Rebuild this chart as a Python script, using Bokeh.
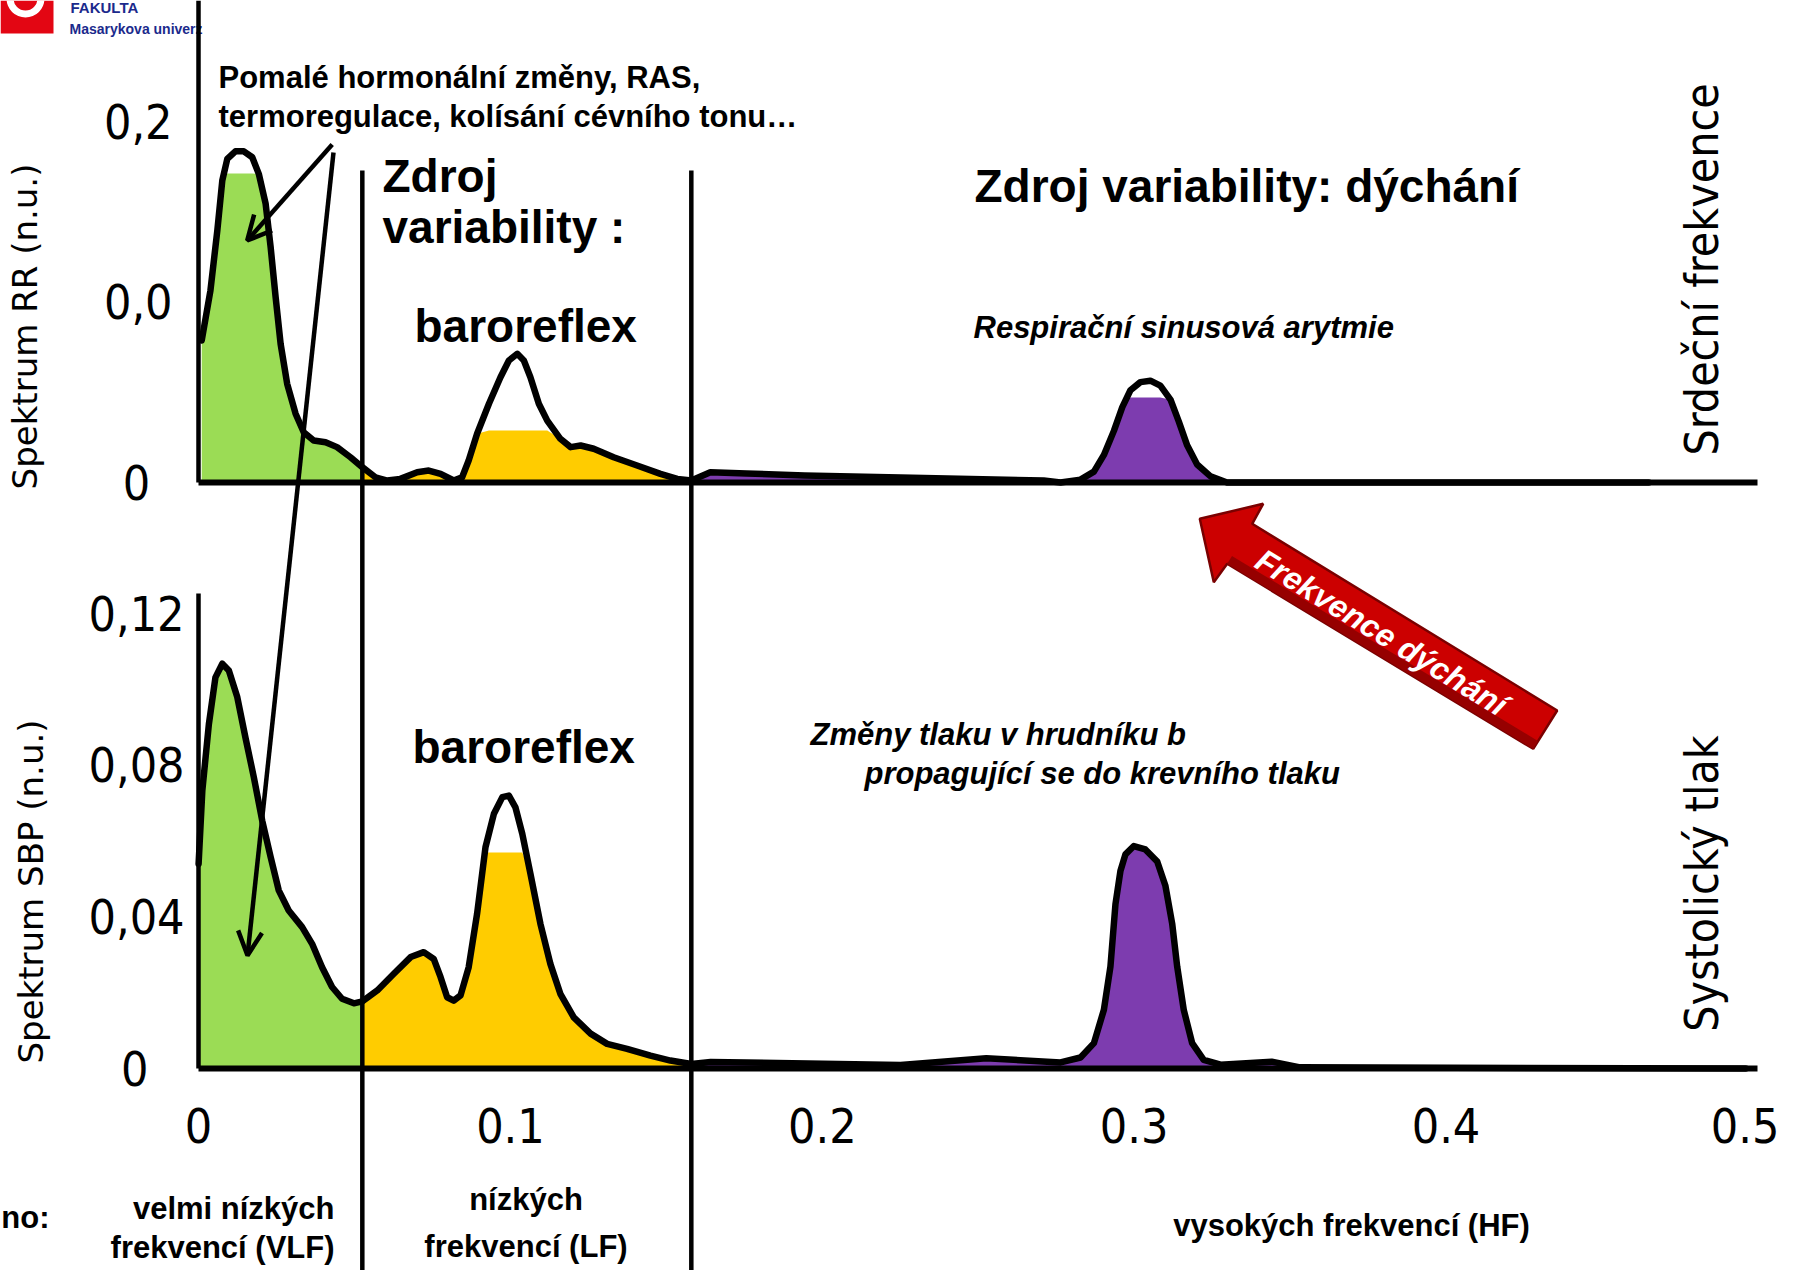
import numpy as np
from bokeh.plotting import figure
from bokeh.models import Range1d, LinearAxis, FixedTicker, Arrow, OpenHead
from bokeh.core.properties import value
from bokeh.embed import file_html
from bokeh.resources import INLINE

# ---------------- data ----------------
band_edges = [0.0, 0.0525, 0.158, 0.5]          # VLF | LF | HF boundaries (Hz)
band_colors = ["#9BDC55", "#FFCC00", "#7D3CAF"]

x_ticks = [0, 0.1, 0.2, 0.3, 0.4, 0.5]
x_tick_labels = ["0", "0.1", "0.2", "0.3", "0.4", "0.5"]
rr_ticks = [0, 0.1, 0.2]
rr_tick_labels = ["0\u00a0\u2009", "0,0", "0,2"]
sbp_ticks = [0, 0.04, 0.08, 0.12]
sbp_tick_labels = ["0\u2007\u2009", "0,04", "0,08", "0,12"]

# RR interval spectrum (upper panel)
rr_freq = [0.0010, 0.0038, 0.0060, 0.0076, 0.0092, 0.0118, 0.0145, 0.0172, 0.0193, 0.0215,
           0.0231, 0.0247, 0.0263, 0.0284, 0.0311, 0.0337, 0.0369, 0.0407, 0.0444, 0.0487,
           0.0525, 0.0567, 0.0605, 0.0647, 0.0701, 0.0738, 0.0776, 0.0818, 0.0845, 0.0866,
           0.0893, 0.0931, 0.0968, 0.0995, 0.1022, 0.1043, 0.1064, 0.1091, 0.1118, 0.1160,
           0.1193, 0.1225, 0.1267, 0.1331, 0.1406, 0.1481, 0.1535, 0.158, 0.1641, 0.1757,
           0.1943, 0.2251, 0.2710, 0.2764, 0.2828, 0.2871, 0.2903, 0.2935, 0.2962, 0.2988,
           0.3020, 0.3052, 0.3084, 0.3117, 0.3143, 0.3170, 0.3202, 0.3245, 0.3298, 0.4650]
rr_power = [0.0787, 0.1064, 0.1396, 0.1673, 0.1793, 0.1835, 0.1835, 0.1802, 0.1710, 0.1544,
            0.1304, 0.1027, 0.0768, 0.0547, 0.0381, 0.0279, 0.0233, 0.0223, 0.0196, 0.0140,
            0.0085, 0.0029, 0.0011, 0.0020, 0.0057, 0.0066, 0.0048, 0.0011, 0.0029, 0.0122,
            0.0270, 0.0436, 0.0583, 0.0676, 0.0713, 0.0676, 0.0583, 0.0436, 0.0343, 0.0242,
            0.0196, 0.0205, 0.0187, 0.0140, 0.0094, 0.0048, 0.0020, 0.0011, 0.0057, 0.0050,
            0.0039, 0.0028, 0.0011, 0.0, 0.0016, 0.0060, 0.0153, 0.0286, 0.0418, 0.0511,
            0.0556, 0.0564, 0.0537, 0.0458, 0.0339, 0.0206, 0.0100, 0.0034, 0.0, 0.0]

# Systolic blood pressure spectrum (lower panel)
sbp_freq = [0.0, 0.0012, 0.0033, 0.0054, 0.0076, 0.0097, 0.0124, 0.0150, 0.0177, 0.0204,
            0.0231, 0.0257, 0.0289, 0.0332, 0.0364, 0.0396, 0.0428, 0.0460, 0.0498, 0.0525,
            0.0573, 0.0626, 0.0680, 0.0722, 0.0754, 0.0776, 0.0797, 0.0818, 0.0840, 0.0866,
            0.0893, 0.0920, 0.0947, 0.0974, 0.0995, 0.1016, 0.1038, 0.1064, 0.1096, 0.1128,
            0.1160, 0.1203, 0.1257, 0.1310, 0.1374, 0.1449, 0.1513, 0.158, 0.1642, 0.1757,
            0.2251, 0.2526, 0.2764, 0.2828, 0.2871, 0.2903, 0.2924, 0.2940, 0.2956, 0.2972,
            0.2999, 0.3036, 0.3074, 0.3100, 0.3122, 0.3138, 0.3159, 0.3186, 0.3223, 0.3277,
            0.3441, 0.3532, 0.4961]
sbp_power = [0.0540, 0.0734, 0.0909, 0.1032, 0.1068, 0.1050, 0.0980, 0.0874, 0.0769, 0.0654,
             0.0558, 0.0470, 0.0417, 0.0373, 0.0329, 0.0267, 0.0215, 0.0184, 0.0172, 0.0177,
             0.0206, 0.0250, 0.0294, 0.0307, 0.0289, 0.0241, 0.0188, 0.0179, 0.0193, 0.0267,
             0.0408, 0.0584, 0.0672, 0.0716, 0.0720, 0.0689, 0.0619, 0.0514, 0.0382, 0.0276,
             0.0197, 0.0135, 0.0092, 0.0065, 0.0052, 0.0034, 0.0021, 0.0012, 0.0017, 0.0016,
             0.0009, 0.0027, 0.0016, 0.0029, 0.0067, 0.0155, 0.0269, 0.0433, 0.0521, 0.0565,
             0.0587, 0.0578, 0.0546, 0.0483, 0.0382, 0.0269, 0.0155, 0.0067, 0.0023, 0.0010,
             0.0018, 0.0003, 0.0]

# ---------------- style / layout ----------------
rr_fill_caps = [0.1712, 0.0288, 0.0471]      # flattened tops of the shaded areas
sbp_fill_caps = [None, 0.0570, None]

W, H = 1779, 1270
OX, OY = 0, 0
F0_PX, PX_PER_F = 198.1, 3118.5
RR0_PX, PX_PER_RR = 482.0, 1805.0
SBP0_PX, PX_PER_SBP = 1068.0, 3790.0
BASELINE_FIX = 0.37          # em offset between requested and rendered text baseline

BOLD = "Liberation Sans"
TICKF = "DejaVu Sans Condensed"

p = figure(width=W, height=H,
           x_range=Range1d((OX - F0_PX) / PX_PER_F, (OX + W - F0_PX) / PX_PER_F),
           y_range=Range1d((SBP0_PX - (OY + H)) / PX_PER_SBP, (SBP0_PX - OY) / PX_PER_SBP),
           x_axis_type=None, y_axis_type=None, output_backend="svg",
           toolbar_location=None, min_border=0)
p.extra_y_ranges = {"top": Range1d((RR0_PX - (OY + H)) / PX_PER_RR, (RR0_PX - OY) / PX_PER_RR),
                    "py": Range1d(OY + H, OY)}
p.extra_x_ranges = {"px": Range1d(OX, OX + W)}
p.outline_line_color = None
p.background_fill_color = "white"
p.border_fill_color = "white"


def band_fill(freq, power, caps, yname):
    f = np.array(freq)
    v = np.array(power)
    for i in range(3):
        lo, hi = band_edges[i], band_edges[i + 1]
        m = (f >= lo) & (f <= hi)
        top = v[m] if caps[i] is None else np.minimum(v[m], caps[i])
        kw = {} if yname is None else {"y_range_name": yname}
        p.varea(x=f[m], y1=0, y2=top, fill_color=band_colors[i], **kw)


band_fill(rr_freq, rr_power, rr_fill_caps, "top")
band_fill(sbp_freq, sbp_power, sbp_fill_caps, None)

p.line(rr_freq, rr_power, y_range_name="top", line_color="black", line_width=6.5,
       line_join="round", line_cap="round")
p.line(sbp_freq, sbp_power, line_color="black", line_width=6.5,
       line_join="round", line_cap="round")

# band dividers
p.segment(x0=band_edges[1:3], y0=[170, 170], x1=band_edges[1:3], y1=[1300, 1300],
          y_range_name="py", line_color="black", line_width=4.5)

# ---------------- axes ----------------
def style_axis(ax, standoff):
    ax.axis_line_color = "black"
    ax.major_tick_line_color = None
    ax.minor_tick_line_color = None
    ax.major_label_standoff = standoff
    ax.major_label_text_font = TICKF
    ax.major_label_text_font_size = "48px"
    ax.major_label_text_color = "black"


xb = LinearAxis(fixed_location=0, bounds=(0, 0.5), ticker=FixedTicker(ticks=x_ticks),
                major_label_overrides=dict(zip(x_ticks, x_tick_labels)))
style_axis(xb, 33)
xb.axis_line_width = 6
p.add_layout(xb, "below")

xt = LinearAxis(y_range_name="top", fixed_location=0, bounds=(0, 0.5),
                ticker=FixedTicker(ticks=[]))
style_axis(xt, 0)
xt.axis_line_width = 6
p.add_layout(xt, "below")

yt = LinearAxis(y_range_name="top", fixed_location=0, bounds=(0, 0.27),
                ticker=FixedTicker(ticks=rr_ticks),
                major_label_overrides=dict(zip(rr_ticks, rr_tick_labels)))
style_axis(yt, 20)
yt.axis_line_width = 4.5
p.add_layout(yt, "left")

yb = LinearAxis(fixed_location=0, bounds=(0, 0.1253),
                ticker=FixedTicker(ticks=sbp_ticks),
                major_label_overrides=dict(zip(sbp_ticks, sbp_tick_labels)))
style_axis(yb, 8)
yb.axis_line_width = 4.5
p.add_layout(yb, "left")


# ---------------- texts ----------------
def txt(x, y, s, size, style="bold", font=BOLD, align="left", baseline="alphabetic",
        color="black", angle=0.0):
    if baseline == "alphabetic":
        sh = BASELINE_FIX * size
        x = x - sh * np.sin(angle)
        y = y - sh * np.cos(angle)
    p.text(x=[x], y=[y], text=[s], x_range_name="px", y_range_name="py",
           text_font=value(font), text_font_size=value(f"{size}px"),
           text_font_style=style, text_align=align, text_baseline=baseline,
           text_color=color, angle=angle)


txt(218, 88, "Pomalé hormonální změny, RAS,", 31)
txt(218, 127, "termoregulace, kolísání cévního tonu…", 31)
txt(382, 193, "Zdroj", 46)
txt(382, 244, "variability :", 46)
txt(414, 343, "baroreflex", 46)
txt(974, 203, "Zdroj variability: dýchání", 46)
txt(973, 338, "Respirační sinusová arytmie", 31, style="bold italic")
txt(412, 764, "baroreflex", 46)
txt(810, 745, "Změny tlaku v hrudníku b", 31, style="bold italic")
txt(864, 784, "propagující se do krevního tlaku", 31, style="bold italic")

txt(49, 1228, "no:", 31, align="right")
txt(334, 1219, "velmi nízkých", 31, align="right")
txt(334, 1258, "frekvencí (VLF)", 31, align="right")
txt(525.5, 1210, "nízkých", 31, align="center")
txt(525.5, 1257, "frekvencí (LF)", 31, align="center")
txt(1351, 1236, "vysokých frekvencí (HF)", 31, align="center")

txt(37, 326, "Spektrum RR (n.u.)", 34, style="normal", font="DejaVu Sans",
    align="center", angle=np.pi / 2)
txt(43, 891, "Spektrum SBP (n.u.)", 34, style="normal", font="DejaVu Sans",
    align="center", angle=np.pi / 2)
txt(1719, 269, "Srdeční frekvence", 46, style="normal", font=TICKF,
    align="center", angle=np.pi / 2)
txt(1719, 883, "Systolický tlak", 46, style="normal", font=TICKF,
    align="center", angle=np.pi / 2)

# logo (cut off at the top of the slide)
p.quad(left=[0], right=[53], top=[0], bottom=[33], x_range_name="px", y_range_name="py",
       fill_color="#E30613", line_color=None)
p.annulus(x=[25], y=[-2], inner_radius=12, outer_radius=19, x_range_name="px",
          y_range_name="py", fill_color="white", line_color=None)
txt(70, 13, "FAKULTA", 15, color="#1B2A8C")
txt(69, 34, "Masarykova univerz", 14, color="#1B2A8C")

# red block arrow "Frekvence dýchání"
arrow_x = [1199.3, 1262.7, 1251.7, 1556.7, 1532.7, 1226.7, 1213.3]
arrow_y = [518.3, 503.3, 523.3, 710.0, 748.3, 563.3, 581.7]
p.patch(arrow_x, arrow_y, x_range_name="px", y_range_name="py",
        fill_color="#CC0000", line_color="#7A0000", line_width=2.5)
shade_x = [1226.7, 1532.7, 1537.5, 1231.5]
shade_y = [563.3, 748.3, 740.5, 555.5]
p.patch(shade_x, shade_y, x_range_name="px", y_range_name="py",
        fill_color="#960000", line_color=None)
txt(1381, 632, "Frekvence dýchání", 32, style="bold italic", color="white",
    align="center", baseline="middle", angle=-0.5498)

# black pointer arrows
for xs, ys, xe, ye in [(331.7, 144, 246.7, 240), (333, 152, 247, 955)]:
    p.add_layout(Arrow(x_start=xs, y_start=ys, x_end=xe, y_end=ye,
                       x_range_name="px", y_range_name="py",
                       line_color="black", line_width=4.5,
                       end=OpenHead(size=24, line_width=4.5, line_color="black")))

open("out.html", "w").write(file_html(p, INLINE))
